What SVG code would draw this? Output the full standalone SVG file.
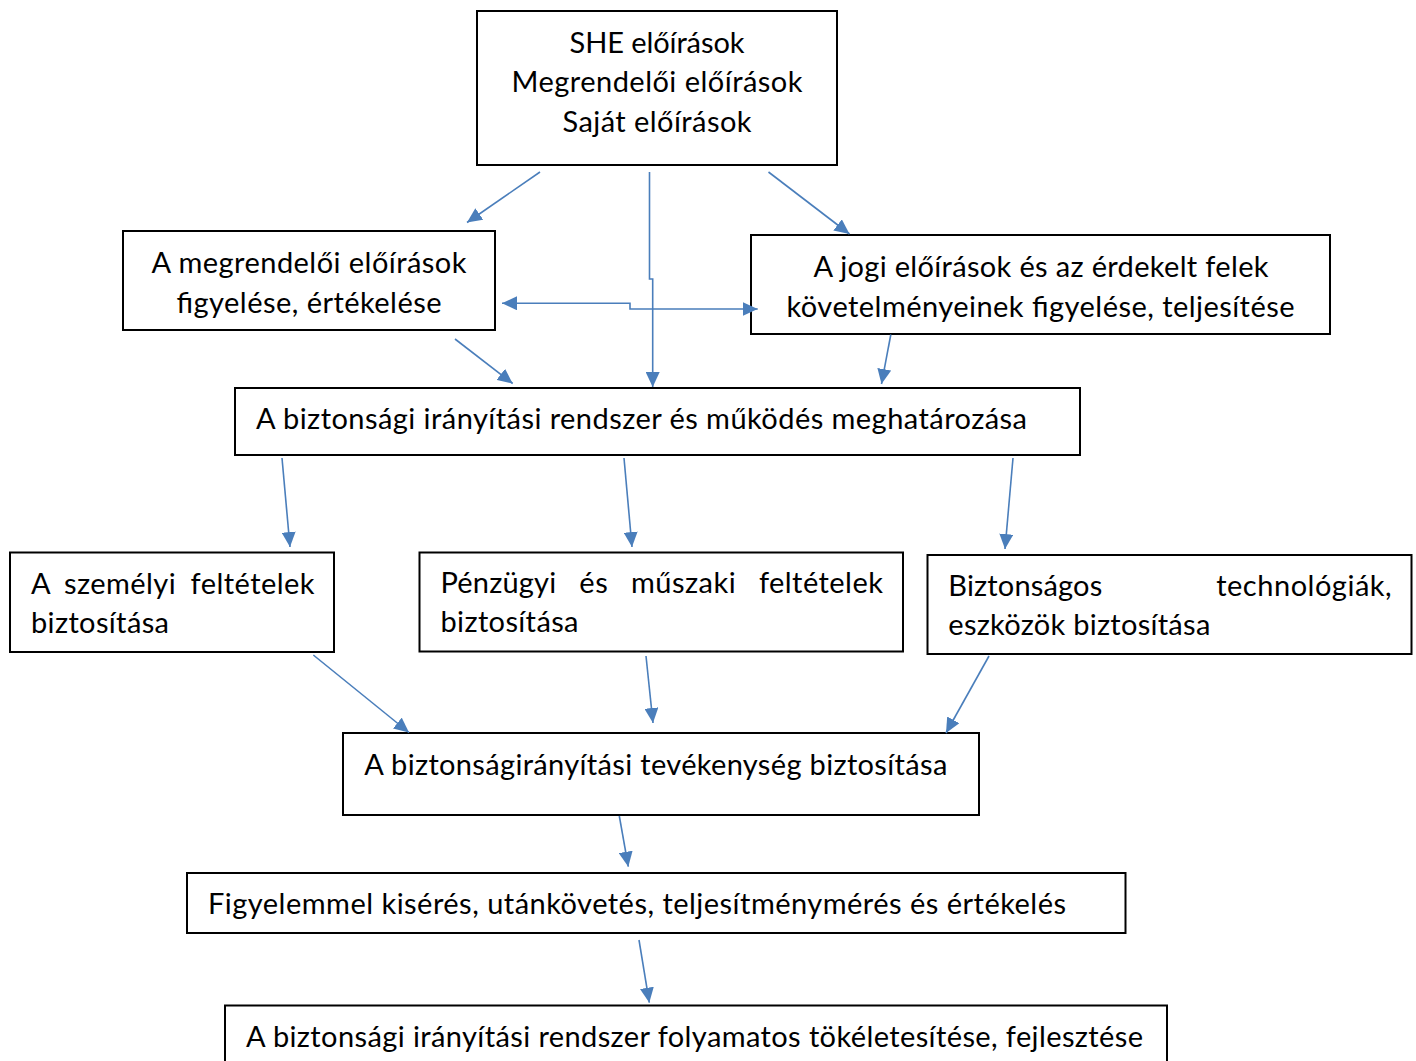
<svg xmlns="http://www.w3.org/2000/svg" width="1416" height="1061" viewBox="0 0 1416 1061">
<defs>
<style>
.box{fill:#fff;stroke:#000;stroke-width:2}
.t{font-family:Lato,"Open Sans","Liberation Sans",sans-serif;font-size:29px;fill:#000}
.c{text-anchor:middle}
.cn{fill:none;stroke:#4A7EBB;stroke-width:1.6}
</style>
<marker id="ah" viewBox="0 0 15 14" refX="15" refY="7" markerWidth="15" markerHeight="14" markerUnits="userSpaceOnUse" orient="auto-start-reverse">
<path d="M0,0 L15,7 L0,14 z" fill="#4A7EBB"/>
</marker>
</defs>
<rect width="1416" height="1061" fill="#fff"/>

<g id="n-eloirasok">
<rect class="box" x="477" y="11" width="360" height="154"/>
<text class="t c" x="657" y="52.5" textLength="175">SHE előírások</text>
<text class="t c" x="657" y="92" textLength="291">Megrendelői előírások</text>
<text class="t c" x="657" y="131.5" textLength="189">Saját előírások</text>
</g>

<g id="n-megrendeloi">
<rect class="box" x="123" y="231" width="372" height="99"/>
<text class="t c" x="309" y="273" textLength="315">A megrendelői előírások</text>
<text class="t c" x="309" y="312.5" textLength="265">figyelése, értékelése</text>
</g>

<g id="n-jogi">
<rect class="box" x="751" y="235" width="579" height="99"/>
<text class="t c" x="1041" y="277" textLength="455">A jogi előírások és az érdekelt felek</text>
<text class="t c" x="1040.5" y="316.5" textLength="508">követelményeinek figyelése, teljesítése</text>
</g>

<g id="n-rendszer">
<rect class="box" x="235" y="388" width="845" height="67"/>
<text class="t" x="256" y="429" textLength="771">A biztonsági irányítási rendszer és működés meghatározása</text>
</g>

<g id="n-szemelyi">
<rect class="box" x="10" y="552.5" width="324" height="99.5"/>
<text class="t" x="31" y="594" textLength="18.5">A</text>
<text class="t" x="64" y="594" textLength="111.7">személyi</text>
<text class="t" x="190.5" y="594" textLength="124">feltételek</text>
<text class="t" x="31" y="633" textLength="138">biztosítása</text>
</g>

<g id="n-penzugyi">
<rect class="box" x="419.5" y="552.5" width="483.5" height="99"/>
<text class="t" x="440.5" y="593" textLength="115.6">Pénzügyi</text>
<text class="t" x="579.3" y="593" textLength="28.4">és</text>
<text class="t" x="630.9" y="593" textLength="104.8">műszaki</text>
<text class="t" x="758.9" y="593" textLength="124">feltételek</text>
<text class="t" x="440.5" y="632" textLength="138">biztosítása</text>
</g>

<g id="n-technologiak">
<rect class="box" x="927.5" y="555" width="484" height="99"/>
<text class="t" x="948.3" y="595.5" textLength="154">Biztonságos</text>
<text class="t" x="1216.2" y="595.5" textLength="175.5">technológiák,</text>
<text class="t" x="948.3" y="634.5" textLength="262">eszközök biztosítása</text>
</g>

<g id="n-tevekenyseg">
<rect class="box" x="343" y="733" width="636" height="82"/>
<text class="t" x="364.3" y="774.5" textLength="583">A biztonságirányítási tevékenység biztosítása</text>
</g>

<g id="n-figyelemmel">
<rect class="box" x="187" y="873" width="938.5" height="60"/>
<text class="t" x="208" y="913.5" textLength="858">Figyelemmel kisérés, utánkövetés, teljesítménymérés és értékelés</text>
</g>

<g id="n-tokeletesites">
<rect class="box" x="225" y="1005.5" width="942" height="70"/>
<text class="t" x="246" y="1047" textLength="897">A biztonsági irányítási rendszer folyamatos tökéletesítése, fejlesztése</text>
</g>

<g id="connectors">
<path class="cn" d="M540,172 L467,222.5" marker-end="url(#ah)"/>
<path class="cn" d="M768.5,172 L849.5,234" marker-end="url(#ah)"/>
<path class="cn" d="M649.5,172 V279 H652.7 V387" marker-end="url(#ah)"/>
<path class="cn" d="M502,303.3 H630 V309 H757.7" marker-start="url(#ah)" marker-end="url(#ah)"/>
<path class="cn" d="M455,339 L512.7,383.5" marker-end="url(#ah)"/>
<path class="cn" d="M890.8,334.5 L881.5,384" marker-end="url(#ah)"/>
<path class="cn" d="M282,458 L290,547" marker-end="url(#ah)"/>
<path class="cn" d="M624,458 L632,547" marker-end="url(#ah)"/>
<path class="cn" d="M1013,458 L1005,549" marker-end="url(#ah)"/>
<path class="cn" d="M313.3,655 L409,732.5" marker-end="url(#ah)"/>
<path class="cn" d="M646,656 L653,723" marker-end="url(#ah)"/>
<path class="cn" d="M989,656 L946,733" marker-end="url(#ah)"/>
<path class="cn" d="M619.3,816 L628.3,866.7" marker-end="url(#ah)"/>
<path class="cn" d="M639,940 L649.3,1002.7" marker-end="url(#ah)"/>
</g>
</svg>
